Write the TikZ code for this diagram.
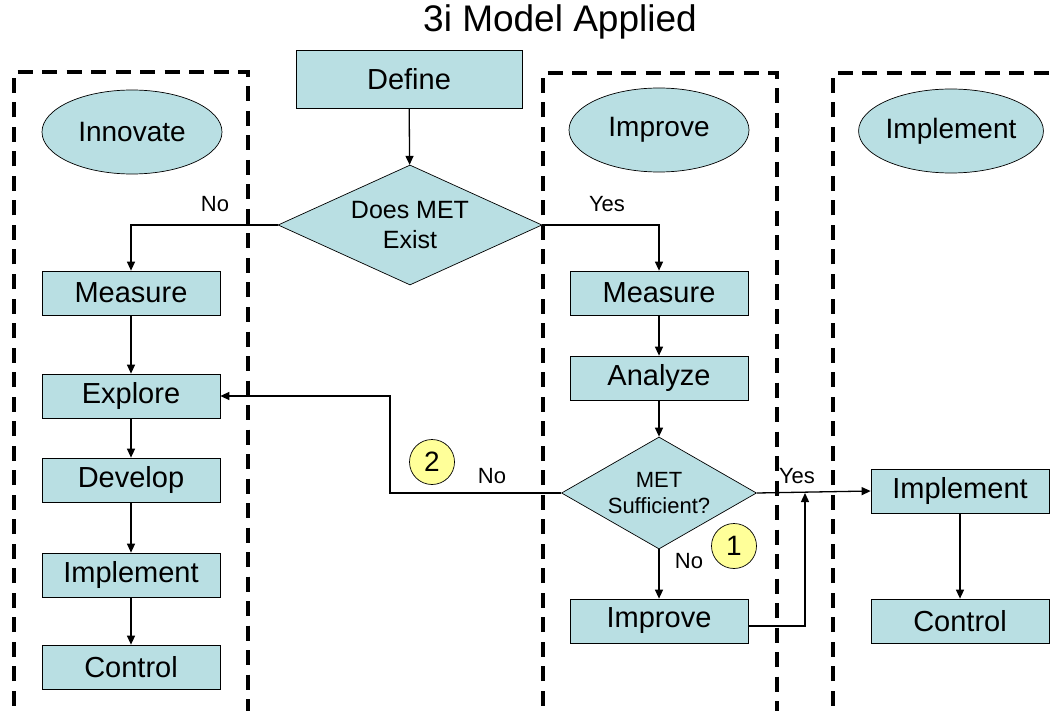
\documentclass[tikz,border=0pt]{standalone}
\usepackage{fontspec}
\setmainfont{Liberation Sans}
\usetikzlibrary{shapes.geometric,arrows.meta}
\definecolor{boxfill}{HTML}{B9DFE3}
\definecolor{numfill}{HTML}{FFFF99}
\begin{document}
\begin{tikzpicture}[x=1pt,y=-1pt,
  every node/.style={inner sep=0pt},
  frame/.style={line width=4.3pt, dash pattern=on 15pt off 9.5pt},
  stepbox/.style={draw, fill=boxfill, line width=0.7pt, minimum width=178pt, minimum height=44pt, font=\fontsize{29}{32}\selectfont},
  phase/.style={draw, fill=boxfill, ellipse, line width=0.7pt, minimum width=180pt, minimum height=84pt, font=\fontsize{28}{32}\selectfont},
  decision/.style={draw, fill=boxfill, diamond, line width=0.7pt, align=center},
  conn/.style={line width=1.3pt, -{Triangle[length=9pt,width=8pt]}},
  lbl/.style={font=\fontsize{22}{25}\selectfont},
  num/.style={draw, circle, fill=numfill, line width=0.7pt, minimum size=45pt, font=\fontsize{28}{32}\selectfont}
]
\useasboundingbox (0,0) rectangle (1057,711);
\clip (0,0) rectangle (1057,711);
\fill[white] (0,0) rectangle (1057,711);

% title
\node (title) at (560,22) {\fontsize{37}{42}\selectfont 3i Model Applied};

% dashed frames
\draw[frame] (14,730) -- (14,72) -- (248,72) -- (248,730);
\draw[frame] (543,730) -- (543,73) -- (777,73) -- (777,730);
\draw[frame] (833,730) -- (833,73) -- (1080,73);

% phase ellipses
\node[phase] (innovate) at (132,132) {Innovate};
\node[phase] (improveE) at (659,130) {Improve};
\node[phase] (implementE) at (951,131) {Implement};

% top
\node[stepbox, minimum width=226pt, minimum height=58pt] (define) at (409,79) {Define};
\node[decision, shape aspect=2.2, minimum width=264pt, minimum height=120pt, font=\fontsize{25}{30}\selectfont] (exist) at (410,225) {Does MET\\Exist};

% left column
\node[stepbox] (measL) at (131,293) {Measure};
\node[stepbox] (explore) at (131,396) {Explore};
\node[stepbox] (develop) at (131,480) {Develop};
\node[stepbox] (implL) at (131,575) {Implement};
\node[stepbox] (controlL) at (131,667) {Control};

% middle column
\node[stepbox] (measM) at (659,293) {Measure};
\node[stepbox] (analyze) at (659,378) {Analyze};
\node[decision, shape aspect=1.74, minimum width=195pt, minimum height=112pt, font=\fontsize{22}{26}\selectfont] (suff) at (659,493) {MET\\Sufficient?};
\node[stepbox] (improveB) at (659,621) {Improve};

% right column
\node[stepbox] (implR) at (960,491) {Implement};
\node[stepbox] (controlR) at (960,621) {Control};

% numbered circles
\node[num] (n2) at (432,462) {2};
\node[num] (n1) at (734,546) {1};

% connectors
\draw[conn] (define) -- (exist);
\draw[conn] (exist.west) -| (measL.north);
\draw[conn] (exist.east) -| (measM.north);
\draw[conn] (measL) -- (explore);
\draw[conn] (explore) -- (develop);
\draw[conn] (develop) -- (implL);
\draw[conn] (implL) -- (controlL);
\draw[conn] (measM) -- (analyze);
\draw[conn] (analyze) -- (suff);
\draw[conn] (suff) -- (improveB);
\coordinate (bend) at (390,493);
\draw[conn] (suff.west) -- (bend) |- (explore.east);
\draw[conn] (suff.east) -- (implR.west);
\coordinate (up) at (805,626);
\coordinate (uptop) at (805,493);
\draw[conn] (improveB.east |- up) -- (up) -- (uptop);
\draw[conn] (implR) -- (controlR);

% labels
\node[lbl] (noA) at (215,204) {No};
\node[lbl] (yesA) at (607,204) {Yes};
\node[lbl] (noB) at (492,476) {No};
\node[lbl] (yesB) at (797,476) {Yes};
\node[lbl] (noC) at (689,561) {No};
\end{tikzpicture}
\end{document}
